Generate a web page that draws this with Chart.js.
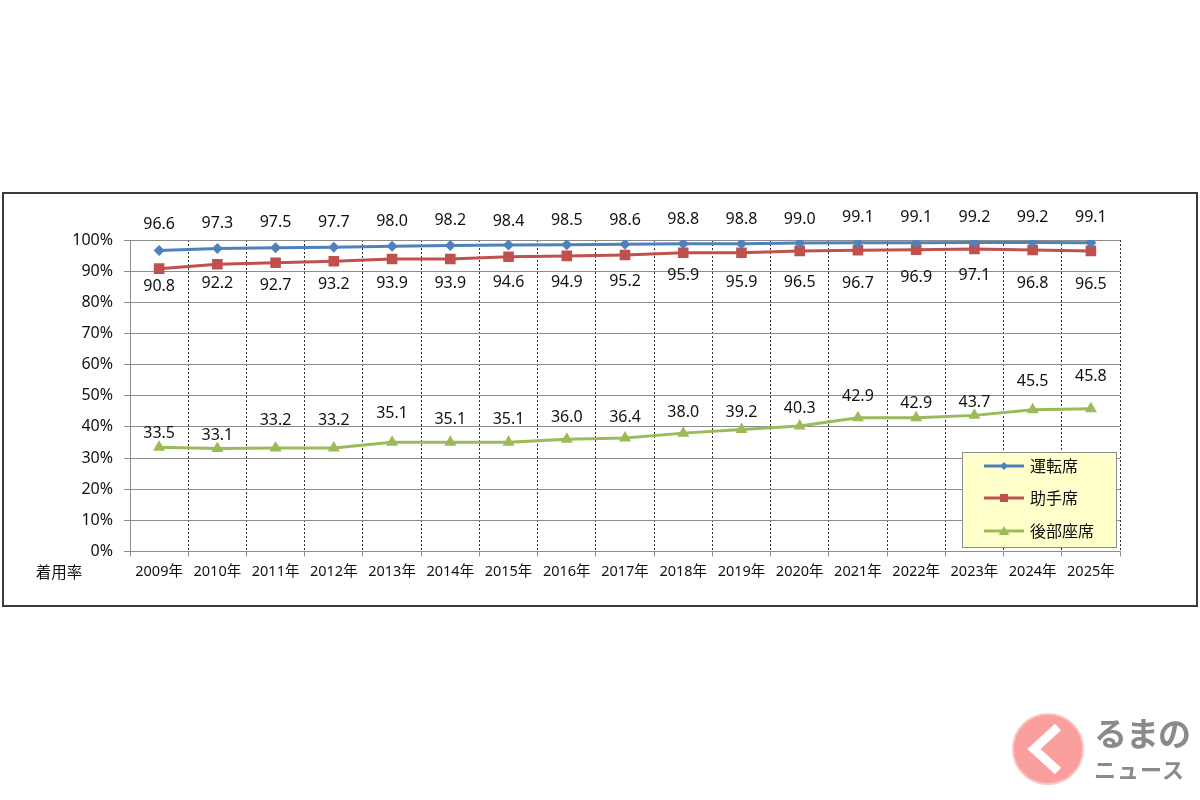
<!DOCTYPE html>
<html>
<head>
<meta charset="utf-8">
<script src="https://cdn.jsdelivr.net/npm/chart.js@4/dist/chart.umd.min.js"></script>
<style>
  html, body { margin: 0; padding: 0; background: #fff; }
  #wrap { position: relative; width: 1200px; height: 800px; }
  #c { position: absolute; left: 0; top: 0; }
  #logo { position: absolute; left: 1010px; top: 710px; width: 190px; height: 80px; }
  #logo .txt1 { position: absolute; left: 84px; top: 2px; font: bold 33px "Noto Sans CJK JP"; color: #8a8a8a; letter-spacing: -1px; line-height: 40px; }
  #logo .txt2 { position: absolute; left: 84px; top: 44px; font: bold 22px "Noto Sans CJK JP"; color: #8a8a8a; letter-spacing: 1px; line-height: 28px; }
</style>
</head>
<body>
<div id="wrap">
  <canvas id="c" width="1200" height="800"></canvas>
  <div id="logo">
    <svg width="80" height="80" viewBox="0 0 80 80" style="position:absolute;left:0;top:0">
      <circle cx="38" cy="39" r="35" fill="#fa9e9e" stroke="#fbc3c3" stroke-width="2"/>
      <polyline points="48,17 24,39 48,61" fill="none" stroke="#ffffff" stroke-width="9" stroke-linejoin="miter"/>
    </svg>
    <div class="txt1">るまの</div>
    <div class="txt2">ニュース</div>
  </div>
</div>
<script>
const categories = ["2009年","2010年","2011年","2012年","2013年","2014年","2015年","2016年","2017年","2018年","2019年","2020年","2021年","2022年","2023年","2024年","2025年"];
const seriesNames = ["運転席", "助手席", "後部座席"];
const driver    = [96.6, 97.3, 97.5, 97.7, 98.0, 98.2, 98.4, 98.5, 98.6, 98.8, 98.8, 99.0, 99.1, 99.1, 99.2, 99.2, 99.1];
const passenger = [90.8, 92.2, 92.7, 93.2, 93.9, 93.9, 94.6, 94.9, 95.2, 95.9, 95.9, 96.5, 96.7, 96.9, 97.1, 96.8, 96.5];
const rear      = [33.5, 33.1, 33.2, 33.2, 35.1, 35.1, 35.1, 36.0, 36.4, 38.0, 39.2, 40.3, 42.9, 42.9, 43.7, 45.5, 45.8];
const yTicks = [0, 10, 20, 30, 40, 50, 60, 70, 80, 90, 100];
const axisTitle = "着用率";

// label placement offsets (pixels, style only)
const driverLabelOffsets    = [-26,-25,-25,-25,-25,-25,-24,-24,-24,-24,-24,-24,-25,-25,-25,-25,-25];
const passengerLabelOffsets = [18,19,23,23,24,24,26,27,26,23,30,32,33,28,26,33,34];
const rearLabelOffsets      = [-14,-13,-28,-28,-29,-23,-23,-22,-21,-21,-17,-18,-21,-14,-13,-28,-32];

const FONT = '"Noto Sans", "Noto Sans CJK JP", sans-serif';
const COLORS = ["#4f81bd", "#c0504d", "#9bbb59"];
const labelOffsets = [driverLabelOffsets, passengerLabelOffsets, rearLabelOffsets];

function drawMarker(ctx, style, x, y, r, color) {
  ctx.save();
  ctx.fillStyle = color;
  ctx.beginPath();
  if (style === 'rectRot') {
    ctx.moveTo(x, y - r); ctx.lineTo(x + r, y); ctx.lineTo(x, y + r); ctx.lineTo(x - r, y); ctx.closePath();
  } else if (style === 'rect') {
    ctx.rect(x - r, y - r, 2 * r, 2 * r);
  } else {
    ctx.moveTo(x, y - r); ctx.lineTo(x + r * 1.05, y + r * 0.8); ctx.lineTo(x - r * 1.05, y + r * 0.8); ctx.closePath();
  }
  ctx.fill();
  ctx.restore();
}

const framePlugin = {
  id: 'frame',
  beforeDraw(chart) {
    const ctx = chart.ctx;
    ctx.save();
    ctx.fillStyle = '#fff';
    ctx.fillRect(0, 0, chart.width, chart.height);
    ctx.strokeStyle = '#3a3a3a';
    ctx.lineWidth = 2;
    ctx.strokeRect(3, 193, 1194, 413);
    ctx.restore();
  }
};

const labelPlugin = {
  id: 'valueLabels',
  afterDatasetsDraw(chart) {
    const ctx = chart.ctx;
    ctx.save();
    ctx.font = '16px ' + FONT;
    ctx.fillStyle = '#111';
    ctx.textAlign = 'center';
    ctx.textBaseline = 'middle';
    chart.data.datasets.forEach((ds, di) => {
      const meta = chart.getDatasetMeta(di);
      meta.data.forEach((pt, i) => {
        ctx.fillText(ds.data[i].toFixed(1), pt.x, pt.y + labelOffsets[di][i]);
      });
    });
    ctx.textAlign = 'center';
    ctx.font = '15.5px ' + FONT;
    ctx.fillText(axisTitle, 59, chart.chartArea.bottom + 22);
    ctx.restore();
  },
  afterDraw(chart) {
    const ctx = chart.ctx;
    ctx.save();
    const bx = 962.5, by = 452.5, bw = 154, bh = 95;
    ctx.fillStyle = '#ffffcc';
    ctx.fillRect(bx, by, bw, bh);
    ctx.strokeStyle = '#8c8c8c';
    ctx.lineWidth = 1;
    ctx.strokeRect(bx, by, bw, bh);
    const ys = [466, 498, 531];
    const styles = ['rectRot', 'rect', 'triangle'];
    const rs = [4, 4, 5];
    chart.data.datasets.forEach((ds, di) => {
      const y = ys[di];
      ctx.strokeStyle = ds.borderColor;
      ctx.lineWidth = 3;
      ctx.beginPath();
      ctx.moveTo(984, y); ctx.lineTo(1024, y); ctx.stroke();
      drawMarker(ctx, styles[di], 1004, y, rs[di], ds.borderColor);
      ctx.fillStyle = '#111';
      ctx.font = '16px "Noto Sans CJK JP", sans-serif';
      ctx.textAlign = 'left';
      ctx.textBaseline = 'middle';
      ctx.fillText(ds.label, 1030, y);
    });
    ctx.restore();
  }
};

new Chart(document.getElementById('c'), {
  type: 'line',
  data: {
    labels: categories,
    datasets: [
      { label: seriesNames[0], data: driver, borderColor: COLORS[0], backgroundColor: COLORS[0], borderWidth: 3,
        pointStyle: 'rectRot', pointRadius: 5.5, pointBorderWidth: 0, tension: 0 },
      { label: seriesNames[1], data: passenger, borderColor: COLORS[1], backgroundColor: COLORS[1], borderWidth: 3,
        pointStyle: 'rect', pointRadius: 7.5, pointBorderWidth: 0, tension: 0 },
      { label: seriesNames[2], data: rear, borderColor: COLORS[2], backgroundColor: COLORS[2], borderWidth: 3,
        pointStyle: 'triangle', pointRadius: 7, pointBorderWidth: 0, tension: 0 }
    ]
  },
  options: {
    responsive: false,
    animation: false,
    events: [],
    layout: { padding: { left: 0, right: 80, top: 240, bottom: 208.5 } },
    plugins: { legend: { display: false }, tooltip: { enabled: false } },
    scales: {
      x: {
        type: 'category',
        offset: true,
        grid: { offset: true, display: true, color: '#2a2a2a', lineWidth: 1,
                tickLength: 5, tickColor: '#8c8c8c', tickBorderDash: [], drawOnChartArea: true },
        border: { display: true, color: '#8c8c8c', width: 1, dash: [2, 2] },
        ticks: { color: '#111', font: { family: FONT, size: 14.5 }, padding: 7, maxRotation: 0, autoSkip: false },
        afterFit(scale) { scale.height = 40; }
      },
      y: {
        min: 0, max: 100,
        afterBuildTicks(scale) { scale.ticks = yTicks.map(v => ({ value: v })); },
        grid: { color: '#8c8c8c', lineWidth: 1, tickLength: 6, tickColor: '#8c8c8c' },
        border: { display: true, color: '#8c8c8c', width: 1 },
        ticks: { color: '#111', font: { family: FONT, size: 16 }, padding: 11, callback: v => v + '%' },
        afterFit(scale) { scale.width = 130; }
      }
    }
  },
  plugins: [framePlugin, labelPlugin]
});
</script>
</body>
</html>
